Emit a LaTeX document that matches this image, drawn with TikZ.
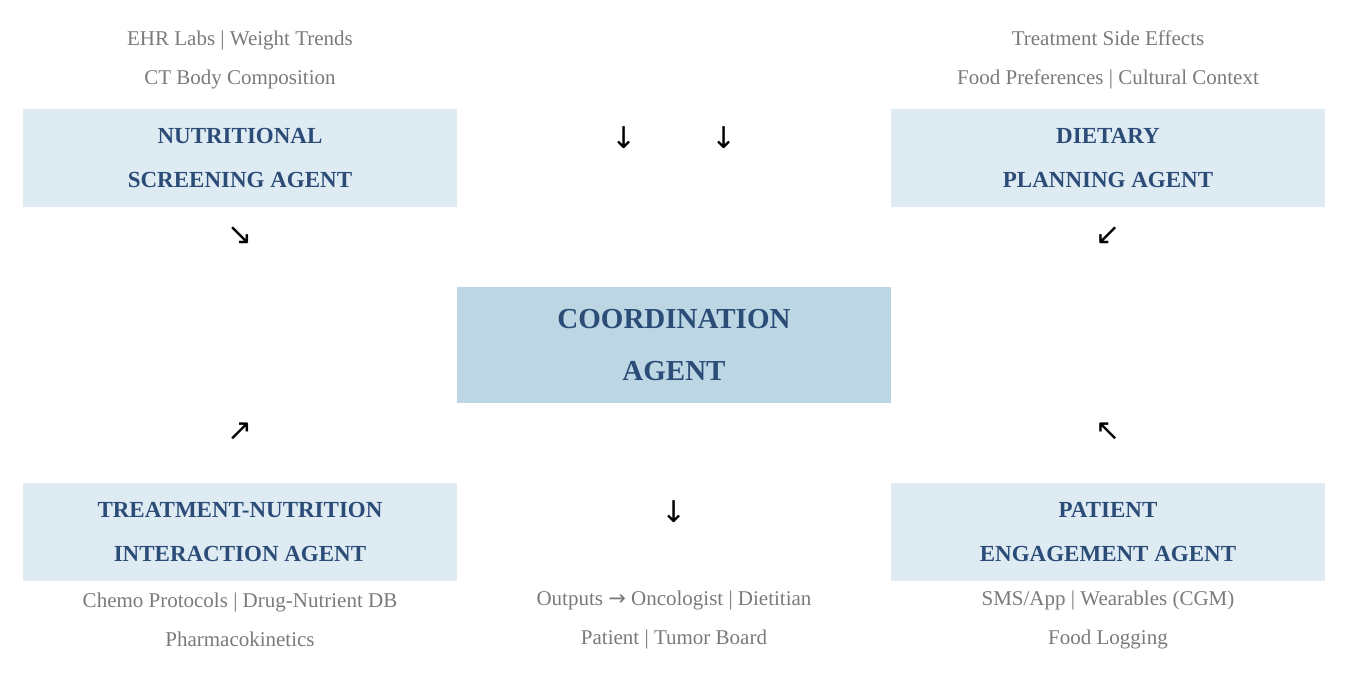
\documentclass[tikz,border=0pt]{standalone}
\usepackage{fontspec}
\setmainfont{Liberation Serif}
\newfontfamily\arrowfont{DejaVu Sans}
\definecolor{boxlight}{HTML}{DEEBF3}
\definecolor{boxmid}{HTML}{BCD6E3}
\definecolor{titleblue}{HTML}{2C4C78}
\definecolor{graytext}{HTML}{7A7A7A}
\begin{document}
\begin{tikzpicture}[x=0.5pt,y=-0.5pt,
  agentbox/.style={fill=boxlight,draw=none,minimum width=217pt,minimum height=49pt,inner sep=0pt,align=center,text=titleblue,font=\bfseries\fontsize{11.5}{22}\selectfont},
  centerbox/.style={fill=boxmid,draw=none,minimum width=217pt,minimum height=58pt,inner sep=0pt,align=center,text=titleblue,font=\bfseries\fontsize{14.5}{26}\selectfont},
  infotext/.style={text=graytext,align=center,font=\fontsize{10.5}{19.5}\selectfont},
  arrowsym/.style={font=\arrowfont\fontsize{15}{15}\selectfont,text=black,inner sep=0pt}]
\useasboundingbox (0,0) rectangle (1346,682);
\node[agentbox] (nsa) at (240,158) {NUTRITIONAL\\SCREENING AGENT};
\node[agentbox] (dpa) at (1108,158) {DIETARY\\PLANNING AGENT};
\node[centerbox] (ca) at (674,345) {COORDINATION\\AGENT};
\node[agentbox] (tni) at (240,532) {TREATMENT-NUTRITION\\INTERACTION AGENT};
\node[agentbox] (pea) at (1108,532) {PATIENT\\ENGAGEMENT AGENT};
\node[infotext] (t1) at (240,60) {EHR Labs | Weight Trends\\CT Body Composition};
\node[infotext] (t2) at (1108,60) {Treatment Side Effects\\Food Preferences | Cultural Context};
\node[infotext] (t3) at (240,620) {Chemo Protocols | Drug-Nutrient DB\\Pharmacokinetics};
\node[infotext] (t4) at (674,620) {Outputs {\arrowfont→} Oncologist | Dietitian\\Patient | Tumor Board};
\node[infotext] (t5) at (1108,620) {SMS/App | Wearables (CGM)\\Food Logging};
\node[arrowsym] (a1) at (624,138) {↓};
\node[arrowsym] (a2) at (724,138) {↓};
\node[arrowsym] (a3) at (240,236) {↘};
\node[arrowsym] (a4) at (1108,236) {↙};
\node[arrowsym] (a5) at (240,432) {↗};
\node[arrowsym] (a6) at (1108,432) {↖};
\node[arrowsym] (a7) at (674,512) {↓};
\end{tikzpicture}
\end{document}
